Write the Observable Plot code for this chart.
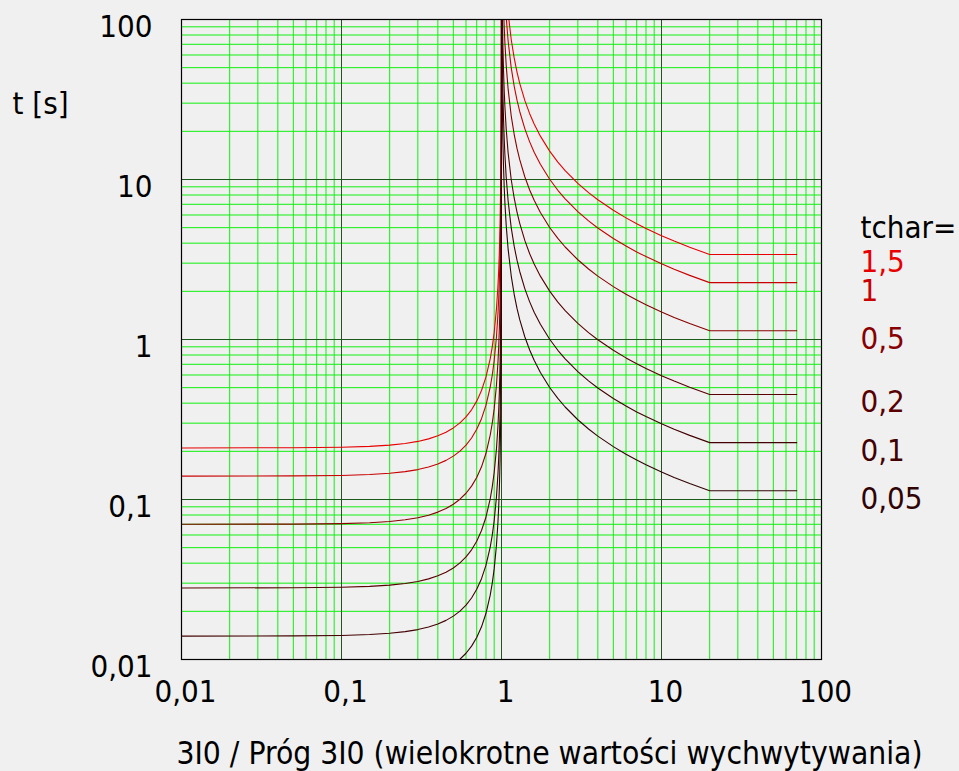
<!DOCTYPE html>
<html>
<head>
<meta charset="utf-8">
<script src="https://cdn.jsdelivr.net/npm/d3@7"></script>
<script src="https://cdn.jsdelivr.net/npm/@observablehq/plot@0.6"></script>
<style>
  html, body { margin: 0; padding: 0; background: #f0f0f0; }
</style>
</head>
<body>
<div id="chart"></div>
<script>
// ---- data ----
const currentMultiple = [0.01, 0.05, 0.1, 0.15, 0.2, 0.25, 0.3, 0.35, 0.4, 0.45,
  0.5, 0.55, 0.6, 0.65, 0.7, 0.75, 0.8, 0.85, 0.875, 0.9,
  0.93, 0.95, 0.96, 0.97, 0.98, 0.99, 0.995, 0.998, 0.999, 0.9995,
  0.9999,
  1.0001, 1.001, 1.002, 1.005, 1.01, 1.02, 1.03, 1.04, 1.05, 1.07,
  1.1, 1.15, 1.2, 1.25, 1.3, 1.4, 1.5, 1.6, 1.75, 2,
  2.25, 2.5, 3, 3.5, 4, 5, 6, 7, 8, 10,
  12, 15, 20, 70];

const tchar = [1.5, 1, 0.5, 0.2, 0.1, 0.05];
const tcharLabels = ["1,5", "1", "0,5", "0,2", "0,1", "0,05"];
const tcharColors = ["#e80000", "#c80000", "#880000", "#580000", "#420000", "#300404"];

const t_1_5 = [0.210, 0.2106, 0.2121, 0.2148, 0.2187, 0.2240, 0.2307, 0.2393, 0.2501, 0.2634,
  0.2801, 0.3011, 0.3282, 0.3636, 0.4118, 0.4800, 0.5834, 0.7568, 0.8960, 1.105,
  1.554, 2.154, 2.679, 3.554, 5.303, 10.55, 21.06, 52.55, 105.1, 210.0,
  1050,
  105000, 10506, 5255, 2106, 1055, 530.1, 355.1, 267.6, 215.1, 155.1,
  110.1, 75.03, 57.50, 46.95, 39.92, 31.10, 25.79, 22.23, 18.66, 15.05,
  12.84, 11.36, 9.453, 8.277, 7.470, 6.420, 5.756, 5.292, 4.946, 4.457,
  4.122, 3.774, 3.401, 3.401];
const t_1 = [0.140, 0.1404, 0.1414, 0.1432, 0.1458, 0.1493, 0.1538, 0.1595, 0.1667, 0.1756,
  0.1867, 0.2007, 0.2188, 0.2424, 0.2745, 0.3200, 0.3889, 0.5045, 0.5973, 0.7368,
  1.036, 1.436, 1.786, 2.369, 3.535, 7.035, 14.04, 35.03, 70.04, 140.0,
  700.0,
  70000, 7004, 3503, 1404, 703.4, 353.4, 236.7, 178.4, 143.4, 103.4,
  73.37, 50.02, 38.33, 31.30, 26.61, 20.73, 17.19, 14.82, 12.44, 10.03,
  8.562, 7.570, 6.302, 5.518, 4.980, 4.280, 3.837, 3.528, 3.297, 2.971,
  2.748, 2.516, 2.267, 2.267];
const t_0_5 = [0.070, 0.0702, 0.0707, 0.0716, 0.0729, 0.0747, 0.0769, 0.0798, 0.0834, 0.0878,
  0.0934, 0.1004, 0.1094, 0.1212, 0.1373, 0.1600, 0.1945, 0.2523, 0.2987, 0.3684,
  0.518, 0.718, 0.893, 1.185, 1.768, 3.518, 7.02, 17.52, 35.02, 70.0,
  350.0,
  35000, 3502, 1752, 702, 351.7, 176.7, 118.4, 89.2, 71.7, 51.7,
  36.69, 25.01, 19.17, 15.65, 13.31, 10.37, 8.595, 7.41, 6.22, 5.015,
  4.281, 3.785, 3.151, 2.759, 2.49, 2.14, 1.919, 1.764, 1.649, 1.486,
  1.374, 1.258, 1.134, 1.134];
const t_0_2 = [0.028, 0.02808, 0.02828, 0.02864, 0.02916, 0.02986, 0.03076, 0.0319, 0.03334, 0.03512,
  0.03734, 0.04014, 0.04376, 0.04848, 0.0549, 0.064, 0.07778, 0.1009, 0.1195, 0.1474,
  0.2072, 0.2872, 0.3572, 0.4738, 0.707, 1.407, 2.808, 7.006, 14.01, 28.0,
  140.0,
  14000, 1401, 700.6, 280.8, 140.7, 70.68, 47.34, 35.68, 28.68, 20.68,
  14.67, 10.0, 7.666, 6.26, 5.322, 4.146, 3.438, 2.964, 2.488, 2.006,
  1.712, 1.514, 1.260, 1.104, 0.996, 0.856, 0.7674, 0.7056, 0.6594, 0.5942,
  0.5496, 0.5032, 0.4534, 0.4534];
const t_0_1 = [0.014, 0.01404, 0.01414, 0.01432, 0.01458, 0.01493, 0.01538, 0.01595, 0.01667, 0.01756,
  0.01867, 0.02007, 0.02188, 0.02424, 0.02745, 0.032, 0.03889, 0.05045, 0.05973, 0.07368,
  0.1036, 0.1436, 0.1786, 0.2369, 0.3535, 0.7035, 1.404, 3.503, 7.004, 14.0,
  70.0,
  7000, 700.4, 350.3, 140.4, 70.34, 35.34, 23.67, 17.84, 14.34, 10.34,
  7.337, 5.002, 3.833, 3.13, 2.661, 2.073, 1.719, 1.482, 1.244, 1.003,
  0.8562, 0.757, 0.6302, 0.5518, 0.498, 0.428, 0.3837, 0.3528, 0.3297, 0.2971,
  0.2748, 0.2516, 0.2267, 0.2267];
const t_0_05 = [0.007, 0.00702, 0.00707, 0.00716, 0.00729, 0.00747, 0.00769, 0.00798, 0.00834, 0.00878,
  0.00934, 0.01004, 0.01094, 0.01212, 0.01373, 0.016, 0.01945, 0.02523, 0.02987, 0.03684,
  0.0518, 0.0718, 0.0893, 0.1185, 0.1768, 0.3518, 0.702, 1.752, 3.502, 7.0,
  35.0,
  3500, 350.2, 175.2, 70.2, 35.17, 17.67, 11.84, 8.92, 7.17, 5.17,
  3.669, 2.501, 1.917, 1.565, 1.331, 1.037, 0.8595, 0.741, 0.622, 0.5015,
  0.4281, 0.3785, 0.3151, 0.2759, 0.249, 0.214, 0.1919, 0.1764, 0.1649, 0.1486,
  0.1374, 0.1258, 0.1134, 0.1134];

const seriesValues = [t_1_5, t_1, t_0_5, t_0_2, t_0_1, t_0_05];

const tickValues = [0.01, 0.1, 1, 10, 100];
const tickLabels = ["0,01", "0,1", "1", "10", "100"];
const decadeGrid = [0.1, 1, 10];
const minorGrid = [0.02, 0.03, 0.04, 0.05, 0.06, 0.07, 0.08, 0.09,
  0.2, 0.3, 0.4, 0.5, 0.6, 0.7, 0.8, 0.9,
  2, 3, 4, 5, 6, 7, 8, 9,
  20, 30, 40, 50, 60, 70, 80, 90];

const xTitle = "3I0 / Próg 3I0 (wielokrotne wartości wychwytywania)";
const yTitle = "t [s]";
const legendTitle = "tchar=";

// ---- build ----
const FS = 31;
const FT = 31.5;
const rows = seriesValues.map(vals => currentMultiple.map((I, i) => ({I, t: vals[i]})));

const marks = [
  Plot.ruleX(minorGrid, {stroke: "#10f010", strokeWidth: 1}),
  Plot.ruleY(minorGrid, {stroke: "#10f010", strokeWidth: 1}),
  Plot.ruleX(decadeGrid, {stroke: "#1c5a1c", strokeWidth: 1}),
  Plot.ruleY(decadeGrid, {stroke: "#1c5a1c", strokeWidth: 1}),
  ...rows.map((r, k) => Plot.line(r, {x: "I", y: "t", stroke: tcharColors[k], strokeWidth: 1.1, clip: true})),
  Plot.frame({stroke: "#000", strokeWidth: 1.2}),
  // y tick labels
  Plot.text(tickValues, {y: d => d, text: (d, i) => tickLabels[i], frameAnchor: "left", lineAnchor: "middle", textAnchor: "end", dx: -29, dy: 8, fontSize: FS, fill: "#000"}),
  // x tick labels
  Plot.text(tickValues, {x: d => d, text: (d, i) => tickLabels[i], frameAnchor: "bottom", lineAnchor: "middle", textAnchor: "middle", dx: 4, dy: 33, fontSize: FS, fill: "#000"}),
  // series labels
  Plot.text(tchar, {y: (d, i) => seriesValues[i][seriesValues[i].length - 1], text: (d, i) => tcharLabels[i], fill: (d, i) => tcharColors[i], frameAnchor: "right", lineAnchor: "middle", textAnchor: "start", dx: 39, dy: 8, fontSize: FS}),
  Plot.text([legendTitle], {y: () => t_1_5[t_1_5.length - 1], text: d => d, frameAnchor: "right", lineAnchor: "middle", textAnchor: "start", dx: 39, dy: -26, fontSize: FS, fill: "#000"}),
  // axis titles
  Plot.text([xTitle], {text: d => d, frameAnchor: "bottom", lineAnchor: "middle", textAnchor: "middle", dx: 48, dy: 94, fontSize: FT, fill: "#000"}),
  Plot.text([yTitle], {text: d => d, frameAnchor: "top-left", lineAnchor: "middle", textAnchor: "start", dx: -169, dy: 85, fontSize: FS, fill: "#000"})
];

const chart = Plot.plot({
  width: 959,
  height: 771,
  marginLeft: 181,
  marginRight: 138,
  marginTop: 19,
  marginBottom: 112,
  x: {type: "log", domain: [0.01, 100], axis: null},
  y: {type: "log", domain: [0.01, 100], axis: null},
  style: {background: "#f0f0f0", fontFamily: "'DejaVu Sans Condensed', 'DejaVu Sans', sans-serif", fontStretch: "condensed", fontSize: FS + "px", overflow: "visible"},
  marks
});
document.getElementById("chart").appendChild(chart);
</script>
</body>
</html>
